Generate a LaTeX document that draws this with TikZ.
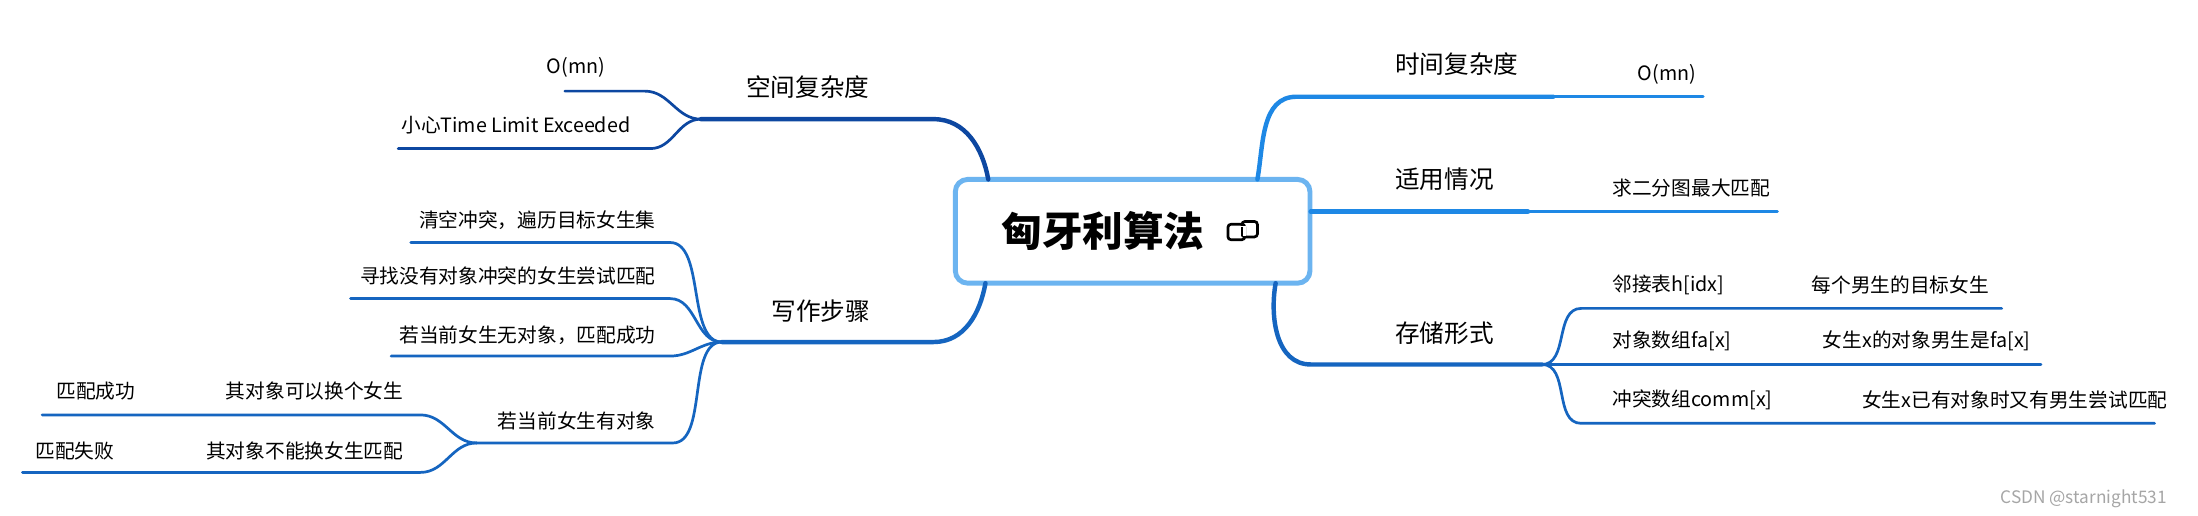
\documentclass[tikz,border=0pt]{standalone}
\usepackage{fontspec}
\setmainfont{Noto Sans CJK SC}
\begin{document}
\begin{tikzpicture}[x=0.02cm,y=-0.02cm,
  lbl/.style={inner sep=0,font=\fontsize{10}{12}\selectfont},
  sub/.style={inner sep=0,font=\fontsize{8}{10}\selectfont},
  thickb/.style={line width=1.8pt,line cap=round},
  thinb/.style={line width=1.1pt,line cap=round},
  cA/.style={color=c1}, cB/.style={color=c2}]
\definecolor{c1}{HTML}{1E88E5}
\definecolor{c2}{HTML}{1565C0}
\definecolor{c3}{HTML}{0D47A1}
\definecolor{bx}{HTML}{6CB4F0}
\useasboundingbox[fill=white] (0,0) rectangle (1568,368);
% central node
\node[draw=bx,line width=2pt,rounded corners=5pt,fill=white,minimum width=253*0.02cm,minimum height=74*0.02cm,inner sep=0] (root) at (808,165) {};
\node[inner sep=0,font=\fontsize{16.5}{18}\selectfont\bfseries,anchor=west] (title) at (714,165) {匈牙利算法};
\node[inner sep=0,minimum size=14*0.02cm] (icon) at (888,166) {};
\draw[line width=1.1pt,rounded corners=1.2pt] (876,160) rectangle (888,171);
\draw[line width=1.1pt,rounded corners=1.2pt] (886,158) rectangle (897,169);
\fill[white] (884,161.5) rectangle (889,168);
\draw[line width=1.1pt] (886,162) -- (886,168);
% ----- right branches
\coordinate (t0) at (897,128); \coordinate (t1) at (925,69); \coordinate (t2) at (1108,69); \coordinate (t3) at (1215,69);
\draw[thickb,c1] (t0) to[out=-80+160,in=180] (t1) -- (t2);
\draw[thinb,c1] (t2) -- (t3);
\node[lbl,anchor=west] (time) at (995,46) {时间复杂度};
\node[sub,anchor=west] (time1) at (1168,53) {O(mn)};

\coordinate (a0) at (935,151); \coordinate (a2) at (1090,151); \coordinate (a3) at (1268,151);
\draw[thickb,c1] (a0) -- (a2);
\draw[thinb,c1] (a2) -- (a3);
\node[lbl,anchor=west] (app) at (995,128) {适用情况};
\node[sub,anchor=west] (app1) at (1150,134) {求二分图最大匹配};

\coordinate (s0) at (910,202); \coordinate (s1) at (935,260); \coordinate (s2) at (1100,260);
\draw[thickb,c2] (s0) to[out=80+180,in=180] (s1) -- (s2);
\node[lbl,anchor=west] (sto) at (995,238) {存储形式};
\coordinate (h1) at (1128,220); \coordinate (h3) at (1428,220);
\coordinate (f3) at (1456,260);
\coordinate (k1) at (1128,302); \coordinate (k3) at (1537,302);
\draw[thinb,c2] (s2) to[out=0,in=180] (h1) -- (h3);
\draw[thinb,c2] (s2) -- (f3);
\draw[thinb,c2] (s2) to[out=0,in=180] (k1) -- (k3);
\node[sub,anchor=west] (h) at (1150,203) {邻接表h[idx]};
\node[sub,anchor=west] (hh) at (1292,203) {每个男生的目标女生};
\node[sub,anchor=west] (f) at (1150,243) {对象数组fa[x]};
\node[sub,anchor=west] (ff) at (1300,243) {女生x的对象男生是fa[x]};
\node[sub,anchor=west] (k) at (1150,285) {冲突数组comm[x]};
\node[sub,anchor=west] (kk) at (1328,285) {女生x已有对象时又有男生尝试匹配};
% ----- left branches
\coordinate (p0) at (705,128); \coordinate (p1) at (666,85); \coordinate (p2) at (500,85);
\draw[thickb,c3] (p0) to[out=100,in=0] (p1) -- (p2);
\node[lbl,anchor=west] (space) at (532,62) {空间复杂度};
\coordinate (q1) at (460,65); \coordinate (q2) at (403,65);
\coordinate (r1) at (464,106); \coordinate (r2) at (284,106);
\draw[thinb,c3] (p2) to[out=180,in=0] (q1) -- (q2);
\draw[thinb,c3] (p2) to[out=180,in=0] (r1) -- (r2);
\node[sub,anchor=east] (space1) at (432,48) {O(mn)};
\node[sub,anchor=east] (space2) at (450,89) {小心Time Limit Exceeded};

\coordinate (w0) at (703,202); \coordinate (w1) at (666,244); \coordinate (w2) at (515,244);
\draw[thickb,c2] (w0) to[out=-100,in=0] (w1) -- (w2);
\node[lbl,anchor=west] (write) at (550,222) {写作步骤};
\coordinate (x1) at (478,173); \coordinate (x1e) at (293,173);
\coordinate (x2) at (478,213); \coordinate (x2e) at (250,213);
\coordinate (x3) at (478,254); \coordinate (x3e) at (279,254);
\coordinate (x4) at (480,316); \coordinate (x4e) at (340,316);
\draw[thinb,c2] (w2) to[out=180,in=0,looseness=0.8] (x1) -- (x1e);
\draw[thinb,c2] (w2) to[out=180,in=0] (x2) -- (x2e);
\draw[thinb,c2] (w2) to[out=180,in=0] (x3) -- (x3e);
\draw[thinb,c2] (w2) to[out=180,in=0,looseness=0.8] (x4) -- (x4e);
\node[sub,anchor=east] (st1) at (468,157) {清空冲突，遍历目标女生集};
\node[sub,anchor=east] (st2) at (468,197) {寻找没有对象冲突的女生尝试匹配};
\node[sub,anchor=east] (st3) at (468,239) {若当前女生无对象，匹配成功};
\node[sub,anchor=east] (st4) at (468,300) {若当前女生有对象};
\coordinate (y1) at (300,296); \coordinate (y1e) at (30,296);
\coordinate (y2) at (300,337); \coordinate (y2e) at (16,337);
\draw[thinb,c2] (x4e) to[out=180,in=0] (y1) -- (y1e);
\draw[thinb,c2] (x4e) to[out=180,in=0] (y2) -- (y2e);
\node[sub,anchor=east] (o1) at (288,279) {其对象可以换个女生};
\node[sub,anchor=west] (o1a) at (40,279) {匹配成功};
\node[sub,anchor=east] (o2) at (288,322) {其对象不能换女生匹配};
\node[sub,anchor=west] (o2a) at (25,322) {匹配失败};
\node[inner sep=0,anchor=east,text=gray!70,font=\fontsize{7}{8}\selectfont] (wm) at (1546,356) {CSDN @starnight531};
\end{tikzpicture}
\end{document}
